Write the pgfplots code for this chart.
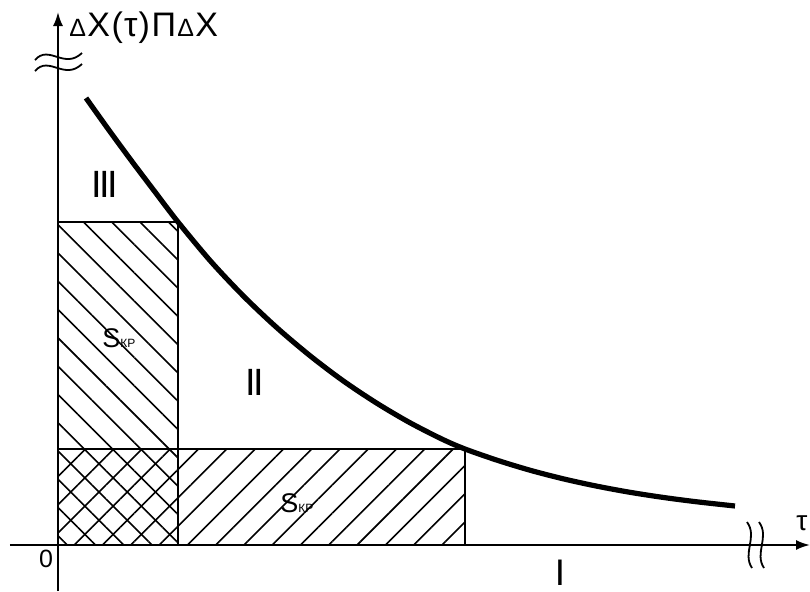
\documentclass[border=0pt]{standalone}
\usepackage{pgfplots}
\pgfplotsset{compat=1.18}
\usepackage{fontspec}
\setmainfont{Liberation Sans}
\usetikzlibrary{patterns.meta,arrows.meta}

\newcommand{\skr}{S{\fontsize{6}{6}\selectfont КР}}
\newcommand{\sdelta}{{\fontsize{12.5}{12.5}\selectfont Δ}}

\begin{document}
\begin{tikzpicture}
\begin{axis}[
  x=0.5pt, y=0.5pt,
  xmin=-48, xmax=752, ymin=-46, ymax=533,
  axis lines=middle,
  axis line style={line width=1pt},
  every inner x axis line/.append style={-{Latex[length=7pt,width=5pt]}},
  every inner y axis line/.append style={-{Latex[length=7pt,width=5pt]}},
  xtick=\empty, ytick=\empty,
  clip=false,
]
% frame of the drawing
\coordinate (bl) at (axis cs:-58,-46);
\coordinate (tr) at (axis cs:752,545);

% critical areas: tall strip and wide strip
\addplot[draw=black, line width=1pt,
  pattern={Lines[angle=-45,distance=10pt,line width=0.8pt]}]
  coordinates {(0,0) (120,0) (120,323) (0,323)} -- cycle;
\addplot[draw=black, line width=1pt,
  pattern={Lines[angle=45,distance=10pt,line width=0.8pt]}]
  coordinates {(0,0) (407,0) (407,96) (0,96)} -- cycle;

% dependence curve
\addplot[line width=2.6pt, smooth] coordinates {
  (28,447) (51,414.8) (74,383.5) (97,353.1) (120,323)
  (153,283.4) (186,248.4) (219,217.2) (252,189.3) (285,164.3)
  (318,142.3) (351,122.8) (384,105.9) (407,96)
  (440,84.5) (473,74.5) (506,66) (539,58.8) (572,52.7)
  (605,47.6) (638,43.3) (677,39)
};

% axis break marks
\draw[line width=0.9pt] (axis cs:-23,485) .. controls (axis cs:-9,501) and (axis cs:6,475) .. (axis cs:24,492);
\draw[line width=0.9pt] (axis cs:-23,474) .. controls (axis cs:-9,490) and (axis cs:6,464) .. (axis cs:24,481);
\draw[line width=0.9pt] (axis cs:689,23) .. controls (axis cs:700,8) and (axis cs:684,-8) .. (axis cs:694,-23);
\draw[line width=0.9pt] (axis cs:701,23) .. controls (axis cs:712,8) and (axis cs:696,-8) .. (axis cs:706,-23);

% labels
\node[anchor=base west, inner sep=0pt, font=\fontsize{17}{17}\selectfont]
  at (axis cs:11,509) {\sdelta\kern0.6pt X\kern0.8pt(\kern0.6ptτ\kern0.6pt)\kern0.8ptΠ\kern0.6pt\sdelta\kern0.6pt X};
\node[anchor=base west, inner sep=0pt, font=\fontsize{14}{14}\selectfont]
  at (axis cs:738,15) {τ};
\node[font=\fontsize{12.5}{12.5}\selectfont] at (axis cs:-12,-14) {0};
\node[font=\fontsize{19}{19}\selectfont] at (axis cs:47,361) {I\kern-1.4pt I\kern-1.4pt I};
\node[font=\fontsize{19}{19}\selectfont] at (axis cs:197,163) {I\kern-1.4pt I};
\node[anchor=base, inner sep=0pt, font=\fontsize{18.5}{18.5}\selectfont] at (axis cs:502,-40) {I};
\node[anchor=base west, inner sep=0pt, font=\fontsize{13.5}{13.5}\selectfont] at (axis cs:44,198) {\skr};
\node[anchor=base west, inner sep=0pt, font=\fontsize{13.5}{13.5}\selectfont] at (axis cs:222,33) {\skr};
\end{axis}
\pgfresetboundingbox
\path[use as bounding box] (bl) rectangle (tr);
\end{tikzpicture}
\end{document}
